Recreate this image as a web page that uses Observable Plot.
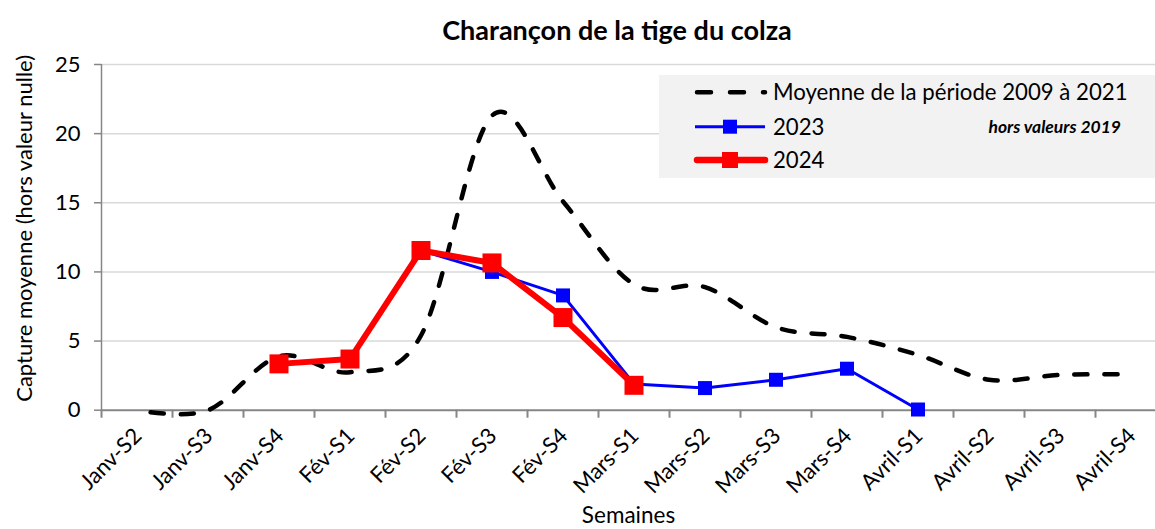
<!DOCTYPE html>
<html><head><meta charset="utf-8">
<script src="https://cdn.jsdelivr.net/npm/d3@7"></script>
<script src="https://cdn.jsdelivr.net/npm/@observablehq/plot@0.6"></script>
<style>
html,body{margin:0;padding:0;background:#fff;overflow:hidden;}
#wrap{position:relative;width:1155px;height:529px;font-family:Lato,"Open Sans",sans-serif;}
#title{height:50px;width:1155px;box-sizing:border-box;padding-left:79px;text-align:center;font-weight:bold;font-size:27px;line-height:60px;color:#000;}
svg{display:block;}
</style></head><body><div id="wrap"><div id="title">Charançon de la tige du colza</div></div>
<script>
const weeks = ["Janv-S2","Janv-S3","Janv-S4","Fév-S1","Fév-S2","Fév-S3","Fév-S4","Mars-S1","Mars-S2","Mars-S3","Mars-S4","Avril-S1","Avril-S2","Avril-S3","Avril-S4"];
const meanValues = [0, 0, 3.9, 2.75, 5.4, 21.3, 15.1, 9.1, 8.9, 6.0, 5.3, 4.0, 2.2, 2.55, 2.6];
const values2023 = [null, null, 3.35, 3.7, 11.55, 10.0, 8.3, 1.9, 1.6, 2.2, 3.0, 0.05, null, null, null];
const values2024 = [null, null, 3.35, 3.7, 11.55, 10.65, 6.7, 1.8, null, null, null, null, null, null, null];
const yTicks = [0, 5, 10, 15, 20, 25];
const yLabel = "Capture moyenne (hors valeur nulle)";
const xLabel = "Semaines";
const legendLabels = ["Moyenne de la période 2009 à 2021", "2023", "2024"];
const legendNote = "hors valeurs 2019";

const toRows = (vals) => weeks.map((w, i) => ({week: w, v: vals[i]})).filter(d => d.v != null);
const meanRows = toRows(meanValues);
const rows2023 = toRows(values2023);
const rows2024 = toRows(values2024);

const W = 1155, H = 479, TOP = 50;
const x0 = 101, x1 = 1166;
const halfBand = (x1 - x0) / weeks.length / 2;
const FONT = 'Lato, "Open Sans", sans-serif';
const side = s => s / Math.sqrt(Math.PI);

const chart = Plot.plot({
  width: W, height: H,
  marginTop: 14, marginBottom: 119.3, marginLeft: x0, marginRight: 0,
  style: {fontFamily: FONT, fontSize: "22px", color: "#000", background: "#fff", overflow: "visible"},
  x: {type: "band", domain: weeks, range: [x0, x1], padding: 0, axis: null},
  y: {domain: [0, 25], axis: null},
  marks: [
    Plot.ruleY(yTicks.filter(d => d > 0), {y: d => d, stroke: "#d9d9d9", strokeWidth: 1.5}),
    Plot.ruleX([weeks[0]], {x: d => d, y1: 0, y2: 25, dx: -halfBand, stroke: "#868686", strokeWidth: 1.5}),
    Plot.ruleY([0], {y: d => d, stroke: "#868686", strokeWidth: 2}),
    Plot.ruleX(weeks, {x: d => d, y1: 0, y2: -0.58, dx: -halfBand, stroke: "#868686", strokeWidth: 2}),
    Plot.axisY({ticks: yTicks, tickSize: 7, tickPadding: 14, tickFormat: d => d, stroke: "#868686", strokeWidth: 1.5, fill: "#000", fontSize: 22, label: null}),
    Plot.text(weeks, {x: d => d, y: 0, text: d => d, dy: 22, dx: 1, rotate: -45, textAnchor: "end", fontSize: 22, fill: "#000"}),
    Plot.text([yLabel], {frameAnchor: "left", text: d => d, rotate: -90, textAnchor: "middle", dx: -77, dy: -9, fontSize: 22, fill: "#000"}),
    Plot.text([xLabel], {frameAnchor: "bottom", text: d => d, dy: 113, fontSize: 22.5, fill: "#000"}),
    Plot.line(meanRows, {x: "week", y: "v", curve: "cardinal", tension: 0, stroke: "#000", strokeWidth: 4.5, strokeDasharray: "13,17", strokeDashoffset: -14, strokeLinecap: "round"}),
    Plot.line(rows2023, {x: "week", y: "v", stroke: "#0000ff", strokeWidth: 3}),
    Plot.dot(rows2023, {x: "week", y: "v", symbol: "square", r: side(14), fill: "#0000ff", stroke: "none"}),
    Plot.line(rows2024, {x: "week", y: "v", stroke: "#ff0000", strokeWidth: 6}),
    Plot.dot(rows2024, {x: "week", y: "v", symbol: "square", r: side(19), fill: "#ff0000", stroke: "none"})
  ]
});

document.getElementById("wrap").appendChild(chart);

// legend inside the plot area
const svg = d3.select(chart);
const g = svg.append("g").attr("font-family", FONT).attr("text-anchor", "start");
g.append("rect").attr("x", 659).attr("y", 75 - TOP).attr("width", 520).attr("height", 103).attr("fill", "#f2f2f2");
const rowsY = [92.3 - TOP, 126.7 - TOP, 160 - TOP];
g.append("line").attr("x1", 697).attr("x2", 765).attr("y1", rowsY[0]).attr("y2", rowsY[0])
  .attr("stroke", "#000").attr("stroke-width", 4.5).attr("stroke-linecap", "round").attr("stroke-dasharray", "14,19");
g.append("line").attr("x1", 695).attr("x2", 765).attr("y1", rowsY[1]).attr("y2", rowsY[1]).attr("stroke", "#0000ff").attr("stroke-width", 3);
g.append("rect").attr("x", 730 - 7).attr("y", rowsY[1] - 7).attr("width", 14).attr("height", 14).attr("fill", "#0000ff");
g.append("line").attr("x1", 697).attr("x2", 765).attr("y1", rowsY[2]).attr("y2", rowsY[2]).attr("stroke", "#ff0000").attr("stroke-width", 6.5).attr("stroke-linecap", "round");
g.append("rect").attr("x", 730 - 8).attr("y", rowsY[2] - 8).attr("width", 16).attr("height", 16).attr("fill", "#ff0000");
legendLabels.forEach((t, i) => {
  g.append("text").attr("x", 773).attr("y", rowsY[i]).attr("dy", "0.36em").attr("text-anchor", "start")
    .attr("font-size", 22.2).attr("fill", "#000").text(t);
});
g.append("text").attr("x", 1121).attr("y", rowsY[1]).attr("dy", "0.36em").attr("text-anchor", "end")
  .attr("font-size", 17.5).attr("font-weight", "bold").attr("font-style", "italic").attr("fill", "#000").text(legendNote);
</script>
</body></html>
